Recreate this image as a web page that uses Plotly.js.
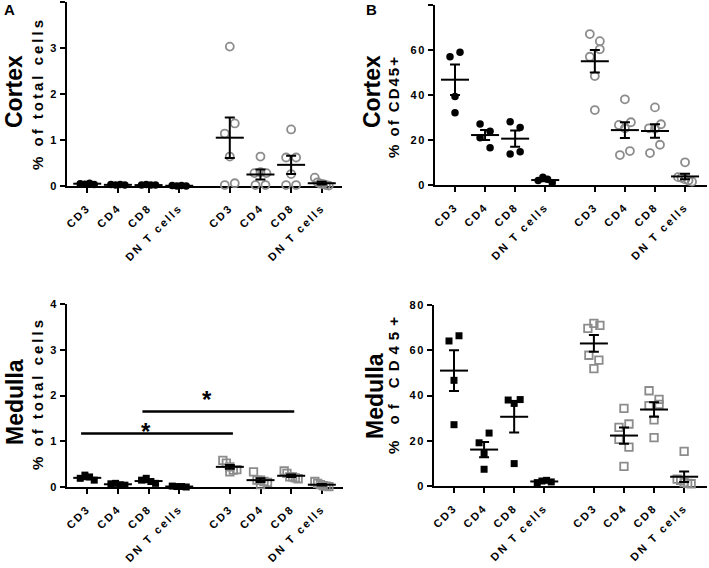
<!DOCTYPE html>
<html>
<head>
<meta charset="utf-8">
<script src="https://cdn.plot.ly/plotly-3.0.1.min.js"></script>
<style>
  body { margin: 0; padding: 0; background: #fff; }
  #chart { width: 709px; height: 568px; }
  .xtick text, .x2tick text, .x3tick text, .x4tick text { letter-spacing: 2.2px; }
  .ytick text, .y2tick text, .y3tick text, .y4tick text { letter-spacing: 1.5px; }
</style>
</head>
<body>
<div id="chart"></div>
<script>
// ---------------- DATA ----------------
const categories = ['CD3', 'CD4', 'CD8', 'DN T cells'];
const tickLabels = categories.concat(categories);

// Panel A: Cortex, % of total cells
const cortexTotalBlack = [[0.05, 0.04, 0.06, 0.03], [0.03, 0.02, 0.03, 0.02], [0.02, 0.03, 0.02, 0.02], [0.01, 0.0, 0.01, 0.0]];
const cortexTotalBlackMean = [0.05, 0.025, 0.02, 0.005];
const cortexTotalBlackSem = [0.01, 0.005, 0.004, 0.003];
const cortexTotalGrey = [[3.03, 1.14, 1.36, 0.64, 0.02, 0.06], [0.64, 0.28, 0.30, 0.28, 0.02, 0.02], [1.23, 0.62, 0.62, 0.26, 0.02, 0.02], [0.18, 0.08, 0.05, 0.04, 0.02, 0.01]];
const cortexTotalGreyMean = [1.05, 0.25, 0.46, 0.06];
const cortexTotalGreySem = [0.44, 0.11, 0.2, 0.03];

// Panel B: Cortex, % of CD45+
const cortexCD45Black = [[57.0, 59.0, 39.3, 32.1], [27.1, 23.9, 21.0, 16.6], [28.1, 25.6, 13.8, 14.8], [2.0, 3.4, 2.6, 1.0]];
const cortexCD45BlackMean = [46.8, 22.2, 20.6, 2.2];
const cortexCD45BlackSem = [6.8, 2.2, 3.6, 0.5];
const cortexCD45Grey = [[67.1, 57.0, 60.3, 63.9, 48.4, 33.3], [38.1, 26.7, 25.2, 27.9, 13.3, 15.1], [34.5, 25.2, 25.0, 27.0, 14.2, 17.9], [10.1, 3.5, 3.2, 2.5, 2.0, 1.5]];
const cortexCD45GreyMean = [55.0, 24.4, 24.0, 3.8];
const cortexCD45GreySem = [5.0, 3.5, 3.0, 1.2];

// Panel C: Medulla, % of total cells
const medullaTotalBlack = [[0.19, 0.26, 0.22, 0.15], [0.07, 0.08, 0.05, 0.04], [0.15, 0.19, 0.12, 0.08], [0.02, 0.01, 0.01, 0.0]];
const medullaTotalBlackMean = [0.2, 0.06, 0.13, 0.01];
const medullaTotalBlackSem = [0.03, 0.01, 0.025, 0.005];
const medullaTotalGrey = [[0.58, 0.52, 0.44, 0.37, 0.33, 0.38], [0.33, 0.15, 0.15, 0.12, 0.10, 0.05], [0.35, 0.30, 0.22, 0.22, 0.20, 0.18], [0.12, 0.08, 0.05, 0.03, 0.02, 0.01]];
const medullaTotalGreyMean = [0.44, 0.15, 0.245, 0.05];
const medullaTotalGreySem = [0.04, 0.04, 0.027, 0.017];

// Panel D: Medulla, % of CD45+
const medullaCD45Black = [[64.1, 66.4, 46.7, 27.1], [19.1, 23.4, 14.4, 7.4], [38.0, 36.5, 38.2, 9.9], [1.5, 2.2, 2.5, 1.8]];
const medullaCD45BlackMean = [51.0, 16.1, 30.6, 2.0];
const medullaCD45BlackSem = [9.0, 3.4, 6.9, 0.2];
const medullaCD45Grey = [[69.7, 71.9, 71.0, 57.8, 55.6, 51.9], [34.3, 25.9, 27.4, 20.6, 17.2, 8.7], [42.1, 38.3, 35.5, 36.1, 29.2, 21.4], [15.3, 3.0, 2.5, 1.5, 1.2, 1.0]];
const medullaCD45GreyMean = [63.0, 22.3, 33.8, 4.1];
const medullaCD45GreySem = [3.7, 3.6, 3.2, 2.3];

// Significance brackets (panel C): from / to category index, bracket level, star level
const sigFrom = [0, 2];
const sigTo = [4, 6];
const sigLevel = [1.17, 1.65];
const sigStarLevel = [1.37, 2.07];
const sigLabel = ['*', '*'];

// ---------------- LAYOUT / STYLE ----------------
const W = 709, H = 568;
const catPos = [0, 1, 2, 3, 4.65, 5.65, 6.65, 7.65];
const black = '#000000';
const grey = '#8c8c8c';
const FONT = 'Liberation Sans, Arial, Helvetica, sans-serif';

const panels = [
  {xa: 'x', ya: 'y', xd: [67 / W, 342 / W], yd: [1 - 186 / H, 1 - 2 / H], xr: [-0.66, 8.31], yr: [0, 4], yt: [0, 1, 2, 3, 4],
   sym: 'circle', b: cortexTotalBlack, bm: cortexTotalBlackMean, bs: cortexTotalBlackSem, g: cortexTotalGrey, gm: cortexTotalGreyMean, gs: cortexTotalGreySem},
  {xa: 'x2', ya: 'y2', xd: [435 / W, 707 / W], yd: [1 - 185 / H, 1 - 5 / H], xr: [-0.665, 8.38], yr: [0, 80], yt: [0, 20, 40, 60, 80],
   sym: 'circle', b: cortexCD45Black, bm: cortexCD45BlackMean, bs: cortexCD45BlackSem, g: cortexCD45Grey, gm: cortexCD45GreyMean, gs: cortexCD45GreySem},
  {xa: 'x3', ya: 'y3', xd: [67 / W, 343 / W], yd: [1 - 487 / H, 1 - 304 / H], xr: [-0.66, 8.34], yr: [0, 4], yt: [0, 1, 2, 3, 4],
   sym: 'square', b: medullaTotalBlack, bm: medullaTotalBlackMean, bs: medullaTotalBlackSem, g: medullaTotalGrey, gm: medullaTotalGreyMean, gs: medullaTotalGreySem},
  {xa: 'x4', ya: 'y4', xd: [434 / W, 707 / W], yd: [1 - 486 / H, 1 - 305 / H], xr: [-0.665, 8.41], yr: [0, 80], yt: [0, 20, 40, 60, 80],
   sym: 'square', b: medullaCD45Black, bm: medullaCD45BlackMean, bs: medullaCD45BlackSem, g: medullaCD45Grey, gm: medullaCD45GreyMean, gs: medullaCD45GreySem}
];

// Scatter-dot-plot spreading: points at nearly equal heights are placed side by side
function spread(values, pxPerY, pxPerX) {
  const idx = values.map((v, i) => i).sort((a, b) => values[b] - values[a]);
  const rows = [];
  let cur = null;
  idx.forEach(i => {
    if (cur && (values[cur[0]] - values[i]) * pxPerY < 11) cur.push(i);
    else { cur = [i]; rows.push(cur); }
  });
  const off = new Array(values.length).fill(0);
  rows.forEach(r => {
    const n = r.length;
    if (n < 2) return;
    const span = n === 2 ? 10 : n === 3 ? 12 : 14;
    const ordered = r.slice().sort((a, b) => a - b);
    ordered.forEach((i, k) => { off[i] = (-span / 2 + span * k / (n - 1)) / pxPerX; });
  });
  return off;
}

const traces = [];
const layout = {
  width: W, height: H,
  margin: {l: 0, r: 0, t: 0, b: 0},
  paper_bgcolor: '#fff', plot_bgcolor: 'rgba(0,0,0,0)',
  showlegend: false,
  font: {family: FONT, color: black},
  annotations: [], shapes: []
};

panels.forEach((p, pi) => {
  const pxPerY = (p.yd[1] - p.yd[0]) * H / (p.yr[1] - p.yr[0]);
  const pxPerX = (p.xd[1] - p.xd[0]) * W / (p.xr[1] - p.xr[0]);
  [[p.b, 0, black], [p.g, 4, grey]].forEach(([groups, base, col]) => {
    const xs = [], ys = [];
    groups.forEach((vals, ci) => {
      const off = spread(vals, pxPerY, pxPerX);
      vals.forEach((v, k) => { xs.push(catPos[base + ci] + off[k]); ys.push(v); });
    });
    const isGrey = col === grey;
    traces.push({
      type: 'scatter', mode: 'markers', x: xs, y: ys, xaxis: p.xa, yaxis: p.ya, cliponaxis: false, hoverinfo: 'skip',
      marker: isGrey
        ? {symbol: p.sym + '-open', size: p.sym === 'circle' ? 8 : 7.5, color: grey, line: {width: 1.8, color: grey}}
        : {symbol: p.sym, size: p.sym === 'circle' ? 7.5 : 7, color: black, line: {width: 0}}
    });
  });
  [[p.bm, p.bs, 0], [p.gm, p.gs, 4]].forEach(([means, sems, base]) => {
    traces.push({
      type: 'scatter', mode: 'markers', xaxis: p.xa, yaxis: p.ya, cliponaxis: false, hoverinfo: 'skip',
      x: means.map((m, i) => catPos[base + i]), y: means,
      marker: {symbol: 'line-ew', size: 20, color: black, line: {width: 2, color: black}},
      error_y: {type: 'data', array: sems, visible: true, color: black, thickness: 2, width: 5}
    });
  });
  const xk = 'xaxis' + (pi ? pi + 1 : '');
  const yk = 'yaxis' + (pi ? pi + 1 : '');
  layout[xk] = {
    domain: p.xd, range: p.xr, anchor: p.ya, fixedrange: true,
    tickmode: 'array', tickvals: catPos, ticktext: tickLabels, tickangle: -45,
    ticks: 'outside', ticklen: 5, tickwidth: 2, tickcolor: black,
    showline: true, linewidth: 2, linecolor: black, showgrid: false, zeroline: false,
    tickfont: {family: FONT, size: 11, weight: 700, color: black}, ticklabelstandoff: 4, layer: 'below traces'
  };
  layout[yk] = {
    domain: p.yd, range: p.yr, anchor: p.xa, fixedrange: true,
    tickmode: 'array', tickvals: p.yt,
    ticks: 'outside', ticklen: 5, tickwidth: 2, tickcolor: black,
    showline: true, linewidth: 2, linecolor: black, showgrid: false, zeroline: false,
    tickfont: {family: FONT, size: 11, weight: 700, color: black}, layer: 'below traces'
  };
});

// Significance brackets and stars in panel C
sigFrom.forEach((f, i) => {
  const t = sigTo[i];
  layout.shapes.push({type: 'line', xref: 'x3', yref: 'y3', x0: catPos[f] - 0.2, x1: catPos[t] + 0.1,
    y0: sigLevel[i], y1: sigLevel[i], line: {color: black, width: 2.5}});
  layout.annotations.push({xref: 'x3', yref: 'y3', x: catPos[f] + 0.41 * (catPos[t] - catPos[f]), y: sigStarLevel[i],
    yshift: -7, text: sigLabel[i], showarrow: false, xanchor: 'center', yanchor: 'middle',
    font: {family: FONT, size: 24, weight: 700, color: black}});
});

// Panel letters and row / axis titles (paper pixel positions)
const titleSpacing = [];
function addText(text, xpx, ypx, size, angle, spacing) {
  layout.annotations.push({xref: 'paper', yref: 'paper', x: xpx / W, y: 1 - ypx / H, text: text, showarrow: false,
    xanchor: 'center', yanchor: 'middle', textangle: angle, font: {family: FONT, size: size, weight: 700, color: black}});
  titleSpacing[layout.annotations.length - 1] = spacing;
}
addText('A', 9, 9, 15, 0, 0);
addText('B', 371, 9, 15, 0, 0);
addText('Cortex', 14, 92, 23, -90, 0);
addText('% of total cells', 37, 94, 15, -90, 3);
addText('Cortex', 372, 92, 23, -90, 0);
addText('% of CD45+', 393, 107, 15, -90, 2);
addText('Medulla', 15, 402, 23, -90, 0);
addText('% of total cells', 37, 394, 15, -90, 3);
addText('Medulla', 375, 396, 23, -90, 0);
addText('% of CD45+', 393, 383, 15, -90, 6);

Plotly.newPlot('chart', traces, layout, {staticPlot: true, displayModeBar: false}).then(gd => {
  gd.querySelectorAll('g.annotation').forEach(g => {
    const i = +g.getAttribute('data-index');
    const ls = titleSpacing[i];
    if (ls) g.querySelectorAll('text').forEach(t => { t.style.letterSpacing = ls + 'px'; });
  });
});
</script>
</body>
</html>
